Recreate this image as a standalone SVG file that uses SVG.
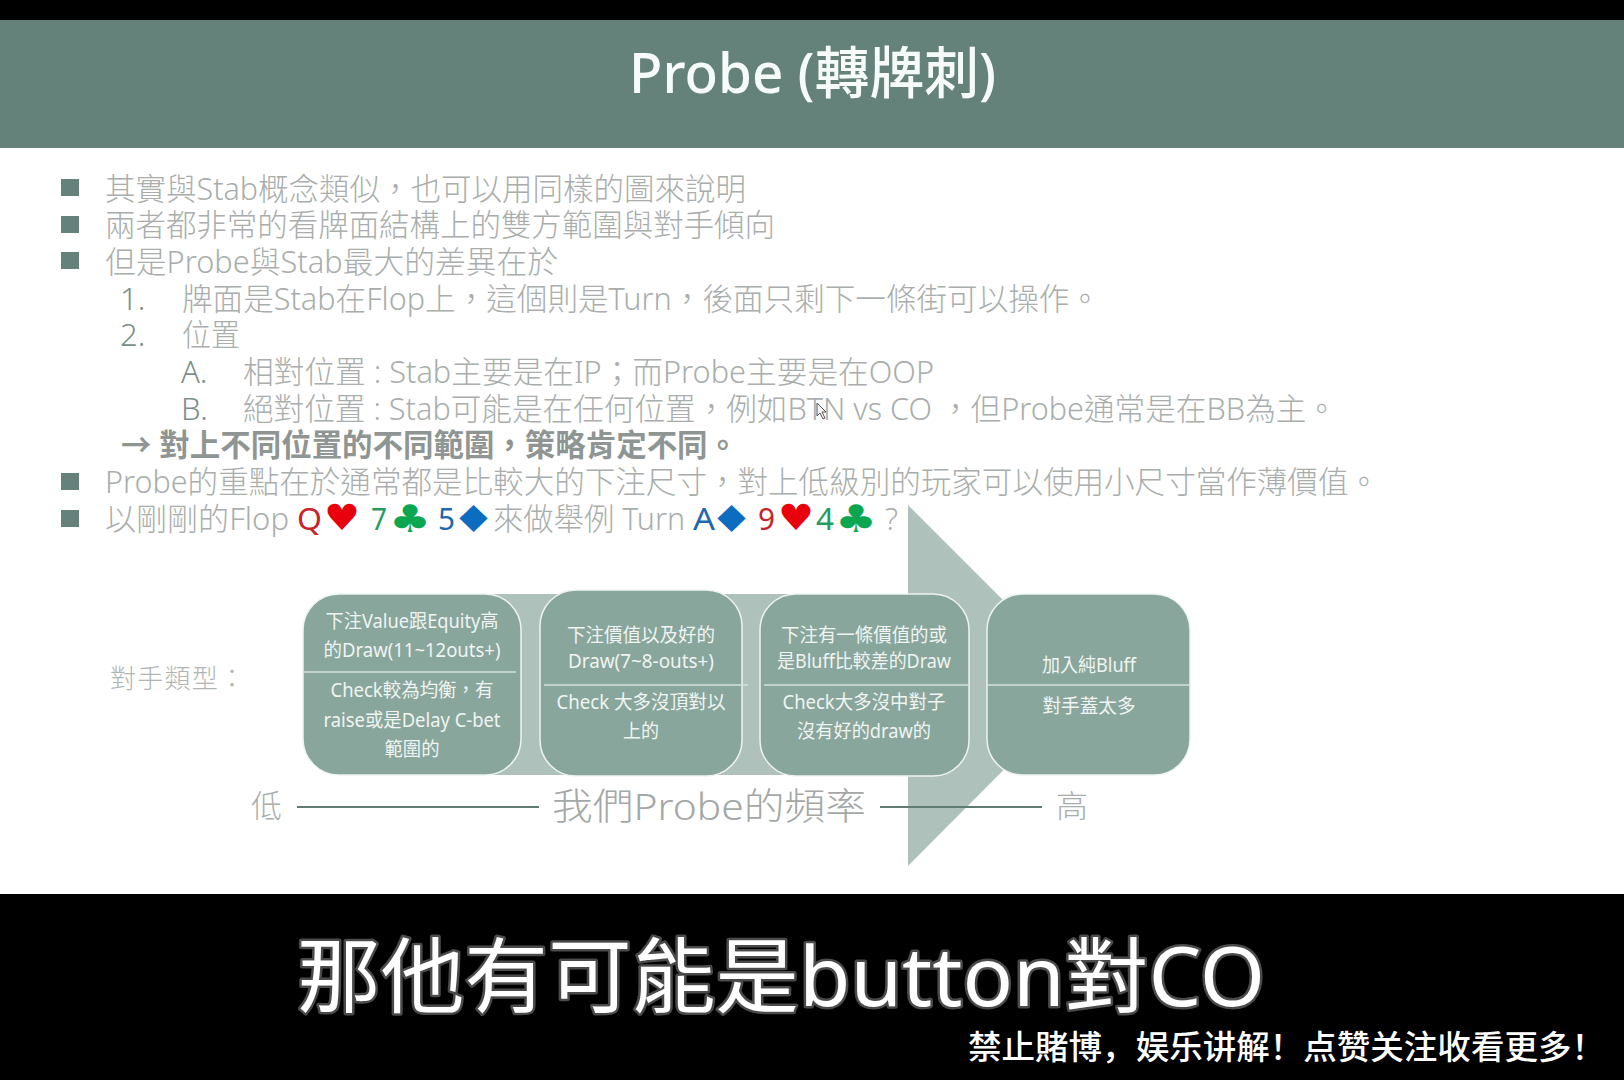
<svg xmlns="http://www.w3.org/2000/svg" width="1624" height="1080" viewBox="0 0 1624 1080">
<style>
text{font-family:"Noto Sans","Noto Sans CJK TC",sans-serif;}
.b{font-size:31px;fill:#a9aeac;font-weight:300;}
.n{fill:#7a8f89;}
.sq{fill:#64827a;}
.box{fill:#88a69c;stroke:#eef3f1;stroke-width:1.5;}
.div{stroke:#d5e0dc;stroke-width:1.5;}
.t{font-size:19px;fill:#f0f4f2;text-anchor:middle;}
.red{font-size:31px;fill:#c8242c;}
.grn{font-size:31px;fill:#1f9d62;}
.blu{font-size:31px;fill:#1f68b0;}
.suit{font-family:"DejaVu Sans",sans-serif;}
.rule{stroke:#5f7b73;stroke-width:2;}
.sub{font-size:31px;fill:#a9aeac;}
</style>
<rect x="0" y="0" width="1624" height="1080" fill="#ffffff"/>
<rect x="0" y="0" width="1624" height="20" fill="#000000"/>
<rect x="0" y="20" width="1624" height="128" fill="#64827a"/>
<rect x="0" y="894" width="1624" height="186" fill="#000000"/>
<text x="629" y="93" font-size="56" font-weight="500" fill="#f6fbf9" textLength="367" lengthAdjust="spacingAndGlyphs">Probe (轉牌刺)</text>

<g id="bullets">
<rect class="sq" x="61" y="179" width="18" height="17"/>
<rect class="sq" x="61" y="216" width="18" height="17"/>
<rect class="sq" x="61" y="252" width="18" height="17"/>
<rect class="sq" x="61" y="473" width="18" height="17"/>
<rect class="sq" x="61" y="510" width="18" height="17"/>
<text class="b" x="105" y="200" textLength="641" lengthAdjust="spacingAndGlyphs">其實與Stab概念類似，也可以用同樣的圖來說明</text>
<text class="b" x="105" y="236" textLength="670" lengthAdjust="spacingAndGlyphs">兩者都非常的看牌面結構上的雙方範圍與對手傾向</text>
<text class="b" x="105" y="273" textLength="453" lengthAdjust="spacingAndGlyphs">但是Probe與Stab最大的差異在於</text>
<text class="b n" x="120" y="310">1.</text>
<text class="b" x="182" y="310" textLength="918" lengthAdjust="spacingAndGlyphs">牌面是Stab在Flop上，這個則是Turn，後面只剩下一條街可以操作。</text>
<text class="b n" x="120" y="346">2.</text>
<text class="b" x="182" y="346" textLength="58" lengthAdjust="spacingAndGlyphs">位置</text>
<text class="b n" x="181" y="383">A.</text>
<text class="b" x="243" y="383" textLength="691" lengthAdjust="spacingAndGlyphs">相對位置 : Stab主要是在IP；而Probe主要是在OOP</text>
<text class="b n" x="181" y="420">B.</text>
<text class="b" x="243" y="420" textLength="1094" lengthAdjust="spacingAndGlyphs">絕對位置 : Stab可能是在任何位置，例如BTN vs CO ，但Probe通常是在BB為主。</text>
<text class="b" x="121" y="456" style="font-weight:700;fill:#8f9593" textLength="617" lengthAdjust="spacingAndGlyphs">→ 對上不同位置的不同範圍，策略肯定不同。</text>
<text class="b" x="105" y="493" textLength="1274" lengthAdjust="spacingAndGlyphs">Probe的重點在於通常都是比較大的下注尺寸，對上低級別的玩家可以使用小尺寸當作薄價值。</text>
<text class="b" x="105" y="530" textLength="184" lengthAdjust="spacingAndGlyphs">以剛剛的Flop</text>
<text class="red" x="297" y="530" textLength="25" lengthAdjust="spacingAndGlyphs">Q</text>
<text class="suit" x="324" y="530" font-size="36" fill="#e8000d" textLength="36" lengthAdjust="spacingAndGlyphs">♥</text>
<text class="grn" x="371" y="530" textLength="16" lengthAdjust="spacingAndGlyphs">7</text>
<text class="suit" x="389" y="532" font-size="38" fill="#0ba750" textLength="42" lengthAdjust="spacingAndGlyphs">♣</text>
<text class="blu" x="438" y="530" textLength="17" lengthAdjust="spacingAndGlyphs">5</text>
<text class="suit" x="451" y="532" font-size="37" fill="#0b6cc0" textLength="45" lengthAdjust="spacingAndGlyphs">♦</text>
<text class="b" x="493" y="530" textLength="192" lengthAdjust="spacingAndGlyphs">來做舉例 Turn</text>
<text class="blu" x="693" y="530" textLength="22" lengthAdjust="spacingAndGlyphs">A</text>
<text class="suit" x="709" y="532" font-size="37" fill="#0b6cc0" textLength="45" lengthAdjust="spacingAndGlyphs">♦</text>
<text class="red" x="758" y="530" textLength="17" lengthAdjust="spacingAndGlyphs">9</text>
<text class="suit" x="778" y="530" font-size="36" fill="#e8000d" textLength="36" lengthAdjust="spacingAndGlyphs">♥</text>
<text class="grn" x="816" y="530" textLength="18" lengthAdjust="spacingAndGlyphs">4</text>
<text class="suit" x="835" y="532" font-size="38" fill="#0ba750" textLength="42" lengthAdjust="spacingAndGlyphs">♣</text>
<text class="b" x="885" y="530" textLength="13" lengthAdjust="spacingAndGlyphs">?</text>
</g>

<polygon id="cursor" points="817,403 817,416 820,413 823,419 825,418 822,412 826,412" fill="#f4f4f4" stroke="#555" stroke-width="1"/>

<polygon id="big-arrow" points="908,505 1088,685 908,866 908,775 420,775 420,594 908,594" fill="#afc1bb"/>

<g id="connectors">
<line class="rule" x1="297" y1="807" x2="539" y2="807"/>
<line class="rule" x1="880" y1="807" x2="1042" y2="807"/>
</g>

<g id="node-1">
<rect class="box" x="303" y="594" width="218" height="181" rx="36" stroke-width="1"/>
<line class="div" x1="303" y1="672" x2="516" y2="672"/>
<text class="t" x="412" y="628" textLength="173" lengthAdjust="spacingAndGlyphs">下注Value跟Equity高</text>
<text class="t" x="412" y="657" textLength="177" lengthAdjust="spacingAndGlyphs">的Draw(11~12outs+)</text>
<text class="t" x="412" y="697" textLength="163" lengthAdjust="spacingAndGlyphs">Check較為均衡，有</text>
<text class="t" x="412" y="727" textLength="177" lengthAdjust="spacingAndGlyphs">raise或是Delay C-bet</text>
<text class="t" x="412" y="756" textLength="55" lengthAdjust="spacingAndGlyphs">範圍的</text>
</g>
<g id="node-2">
<rect class="box" x="540" y="590" width="202" height="186" rx="36"/>
<line class="div" x1="544" y1="685" x2="748" y2="685"/>
<text class="t" x="641" y="642" textLength="148" lengthAdjust="spacingAndGlyphs">下注價值以及好的</text>
<text class="t" x="641" y="668" textLength="146" lengthAdjust="spacingAndGlyphs">Draw(7~8-outs+)</text>
<text class="t" x="641" y="709" textLength="169" lengthAdjust="spacingAndGlyphs">Check 大多沒頂對以</text>
<text class="t" x="641" y="738" textLength="36" lengthAdjust="spacingAndGlyphs">上的</text>
</g>
<g id="node-3">
<rect class="box" x="760" y="594" width="209" height="182" rx="36"/>
<line class="div" x1="764" y1="685" x2="969" y2="685"/>
<text class="t" x="864" y="642" textLength="166" lengthAdjust="spacingAndGlyphs">下注有一條價值的或</text>
<text class="t" x="864" y="668" textLength="174" lengthAdjust="spacingAndGlyphs">是Bluff比較差的Draw</text>
<text class="t" x="864" y="709" textLength="163" lengthAdjust="spacingAndGlyphs">Check大多沒中對子</text>
<text class="t" x="864" y="738" textLength="134" lengthAdjust="spacingAndGlyphs">沒有好的draw的</text>
</g>
<g id="node-4">
<rect class="box" x="987" y="594" width="203" height="181" rx="36"/>
<line class="div" x1="987" y1="685" x2="1190" y2="685"/>
<text class="t" x="1089" y="672" textLength="94" lengthAdjust="spacingAndGlyphs">加入純Bluff</text>
<text class="t" x="1089" y="713" textLength="93" lengthAdjust="spacingAndGlyphs">對手蓋太多</text>
</g>

<text x="110" y="688" font-size="26" font-weight="300" fill="#b0b5b3" textLength="135" lengthAdjust="spacing">對手類型：</text>
<text class="sub" x="251" y="817" font-weight="300" textLength="31" lengthAdjust="spacingAndGlyphs">低</text>
<text x="552" y="820" font-size="37" font-weight="300" fill="#a3a8a6" textLength="314" lengthAdjust="spacingAndGlyphs">我們Probe的頻率</text>
<text class="sub" x="1056" y="817" font-weight="300" textLength="32" lengthAdjust="spacingAndGlyphs">高</text>

<text x="297" y="1006" font-size="82" font-weight="400" fill="#ffffff" stroke="#4a4a4a" stroke-width="5" paint-order="stroke" stroke-linejoin="round" textLength="968" lengthAdjust="spacingAndGlyphs">那他有可能是button對CO</text>
<text x="968" y="1059" font-size="33" font-weight="500" fill="#ffffff" style="font-family:'Noto Sans CJK SC',sans-serif" textLength="637" lengthAdjust="spacingAndGlyphs">禁止賭博，娱乐讲解！点赞关注收看更多！</text>
</svg>
